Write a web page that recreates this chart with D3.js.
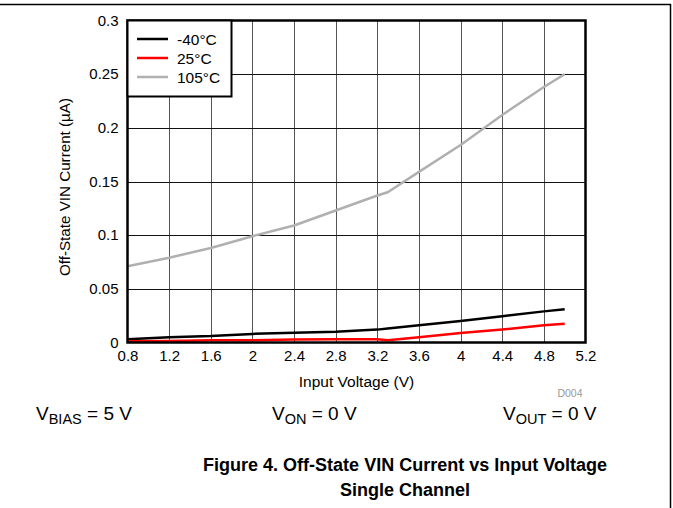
<!DOCTYPE html>
<html>
<head>
<meta charset="utf-8">
<script src="https://cdn.jsdelivr.net/npm/d3@7"></script>
<style>
html,body{margin:0;padding:0;background:#fff;}
svg{display:block;font-family:"Liberation Sans",Arial,sans-serif;}
</style>
</head>
<body>
<svg id="chart" width="673" height="508"></svg>
<script>
const voltage = [0.8, 1.2, 1.6, 2.0, 2.4, 2.8, 3.2, 3.3, 3.6, 4.0, 4.4, 4.8, 5.0];
const curM40  = [0.003, 0.005, 0.006, 0.008, 0.009, 0.010, 0.012, 0.013, 0.016, 0.020, 0.0245, 0.029, 0.031];
const cur25   = [0.0012, 0.0015, 0.002, 0.002, 0.0028, 0.003, 0.003, 0.0022, 0.005, 0.0088, 0.012, 0.016, 0.0175];
const cur105  = [0.071, 0.079, 0.088, 0.099, 0.109, 0.123, 0.137, 0.140, 0.159, 0.184, 0.212, 0.238, 0.250];
const seriesNames = ["-40°C", "25°C", "105°C"];
const seriesColors = ["#000000", "#ff0000", "#b0b0b0"];
const xTicks = [0.8, 1.2, 1.6, 2, 2.4, 2.8, 3.2, 3.6, 4, 4.4, 4.8, 5.2];
const yTicks = [0, 0.05, 0.1, 0.15, 0.2, 0.25, 0.3];

const svg = d3.select("#chart");
const x = d3.scaleLinear().domain([0.8, 5.2]).range([127.5, 585.5]);
const y = d3.scaleLinear().domain([0, 0.3]).range([342.5, 20.5]);

// outer frame lines
svg.append("line").attr("x1",0).attr("x2",671).attr("y1",4.5).attr("y2",4.5).attr("stroke","#000").attr("stroke-width",1.5);
svg.append("line").attr("x1",670.5).attr("x2",670.5).attr("y1",4).attr("y2",508).attr("stroke","#000").attr("stroke-width",1.5);

// grid
const g = svg.append("g");
g.selectAll(".vg").data(xTicks.slice(1,-1)).enter().append("line")
  .attr("x1",d=>Math.round(x(d))+0.5).attr("x2",d=>Math.round(x(d))+0.5)
  .attr("y1",y(0.3)).attr("y2",y(0)).attr("stroke","#555").attr("stroke-width",1);
g.selectAll(".hg").data(yTicks.slice(1,-1)).enter().append("line")
  .attr("y1",d=>Math.round(y(d))+0.5).attr("y2",d=>Math.round(y(d))+0.5)
  .attr("x1",x(0.8)).attr("x2",x(5.2)).attr("stroke","#111").attr("stroke-width",1);

// axes labels via d3 axes
const xAxis = svg.append("g").attr("transform",`translate(0,${y(0)})`)
  .call(d3.axisBottom(x).tickValues(xTicks).tickSize(0).tickPadding(8).tickFormat(d=>String(+d.toFixed(1))));
const yAxis = svg.append("g").attr("transform",`translate(${x(0.8)},0)`)
  .call(d3.axisLeft(y).tickValues(yTicks).tickSize(0).tickPadding(9).tickFormat(d=>String(+d.toFixed(2))));
[xAxis,yAxis].forEach(a=>{
  a.select(".domain").remove();
  a.selectAll("text").attr("font-size",15).attr("fill","#000").attr("font-family","Liberation Sans, Arial, sans-serif");
});

// series
const seriesVals = [curM40, cur25, cur105];
const line = d3.line().x((d,i)=>x(voltage[i])).y(d=>y(d));
[2,0,1].forEach(k=>{
  svg.append("path").datum(seriesVals[k]).attr("d",line)
    .attr("fill","none").attr("stroke",seriesColors[k]).attr("stroke-width",2.5)
    .attr("stroke-linejoin","round");
});

// plot border
svg.append("rect").attr("x",x(0.8)).attr("y",y(0.3)).attr("width",x(5.2)-x(0.8)).attr("height",y(0)-y(0.3))
  .attr("fill","none").attr("stroke","#000").attr("stroke-width",2.5);

// legend
const lg = svg.append("g");
lg.append("rect").attr("x",x(0.8)).attr("y",y(0.3)).attr("width",104).attr("height",76)
  .attr("fill","#fff").attr("stroke","#000").attr("stroke-width",2);
seriesNames.forEach((n,i)=>{
  const yy = 39 + i*19;
  lg.append("line").attr("x1",137).attr("x2",168).attr("y1",yy).attr("y2",yy)
    .attr("stroke",seriesColors[i]).attr("stroke-width",2.5);
  lg.append("text").attr("x",177).attr("y",yy+5.5).attr("font-size",15.5).text(n);
});

// axis titles
svg.append("text").attr("x",(x(0.8)+x(5.2))/2).attr("y",387).attr("text-anchor","middle")
  .attr("font-size",15.5).text("Input Voltage (V)");
svg.append("text").attr("transform","translate(70,187) rotate(-90)").attr("text-anchor","middle")
  .attr("font-size",15.2).text("Off-State VIN Current (µA)");
svg.append("text").attr("x",570).attr("y",397).attr("text-anchor","middle")
  .attr("font-size",10.5).attr("fill","#999").text("D004");

// conditions
function cond(xp, sub, val){
  const t = svg.append("text").attr("x",xp).attr("y",420).attr("font-size",19);
  t.append("tspan").text("V");
  t.append("tspan").attr("dy",4).attr("font-size",14.5).text(sub);
  t.append("tspan").attr("dy",-4).text(" = " + val);
}
cond(36,"BIAS","5 V");
cond(272,"ON","0 V");
cond(503,"OUT","0 V");

// caption
svg.append("text").attr("x",405).attr("y",471).attr("text-anchor","middle")
  .attr("font-size",18).attr("font-weight","bold").attr("textLength",404).attr("lengthAdjust","spacingAndGlyphs")
  .text("Figure 4. Off-State VIN Current vs Input Voltage");
svg.append("text").attr("x",405).attr("y",496).attr("text-anchor","middle")
  .attr("font-size",18).attr("font-weight","bold").attr("textLength",130).attr("lengthAdjust","spacingAndGlyphs")
  .text("Single Channel");
</script>
</body>
</html>
